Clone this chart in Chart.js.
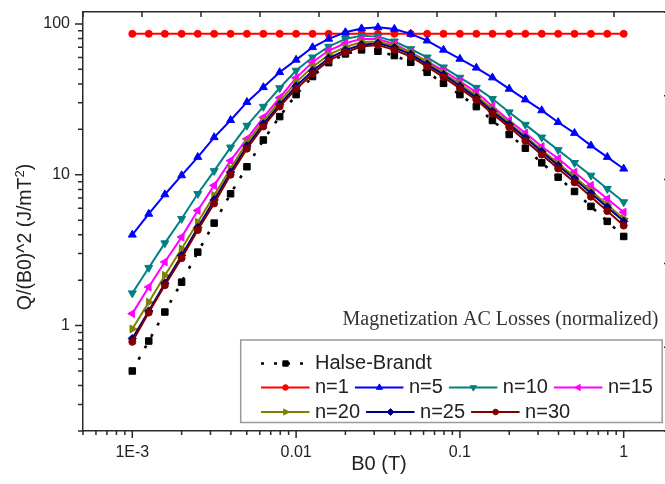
<!DOCTYPE html>
<html>
<head>
<meta charset="utf-8">
<title>Magnetization AC Losses</title>
<script src="https://cdn.jsdelivr.net/npm/chart.js@4.4.1/dist/chart.umd.min.js"></script>
<style>
    html, body { margin: 0; padding: 0; background: #fff; overflow: hidden; }
    #wrap { position: relative; width: 690px; height: 484px; }
</style>
</head>
<body>
<div id="wrap"><canvas id="lossChart"></canvas></div>
<script>
// Applied field amplitude B0 (T), 10 points per decade
const fieldB = [0.001, 0.00126, 0.00158, 0.002, 0.00251, 0.00316, 0.00398, 0.00501, 0.00631, 0.00794,
    0.01, 0.0126, 0.0158, 0.02, 0.0251, 0.0316, 0.0398, 0.0501, 0.0631, 0.0794,
    0.1, 0.126, 0.158, 0.2, 0.251, 0.316, 0.398, 0.501, 0.631, 0.794, 1];

// Normalized loss Q/B0^2 (J/mT^2)
const halseBrandt = [0.50, 0.79, 1.23, 1.94, 3.07, 4.78, 7.48, 11.3, 17.0, 24.3, 34.0, 44.8, 55.4, 63.3, 67.3,
    65.9, 61.7, 55.7, 47.8, 40.4, 34.0, 28.3, 22.9, 18.5, 15.0, 12.0, 9.64, 7.75, 6.17, 4.91, 3.90];
const lossN1 = [86, 86, 86, 86, 86, 86, 86, 86, 86, 86, 86, 86, 86, 86, 86, 86,
    86, 86, 86, 86, 86, 86, 86, 86, 86, 86, 86, 86, 86, 86, 86];
const lossN5 = [4.0, 5.5, 7.4, 9.9, 13.1, 17.7, 23.0, 30.3, 38.0, 47.8, 57.8, 70.0, 79.6, 88.0, 93.3,
    94.9, 92.6, 85.9, 77.5, 67.3, 58.6, 51.2, 44.1, 37.1, 31.5, 26.7, 22.3, 18.9, 15.6, 13.1, 10.96];
const lossN10 = [1.64, 2.42, 3.52, 5.11, 7.48, 10.6, 15.2, 21.2, 28.3, 37.6, 49.1, 60.1, 70.8, 79.6, 83.5,
    82.4, 76.7, 68.2, 60.1, 51.6, 44.1, 37.8, 31.9, 26.0, 21.5, 17.7, 14.6, 12.0, 9.89, 8.07, 6.59];
const lossN15 = [1.20, 1.80, 2.64, 3.86, 5.80, 8.50, 12.4, 17.3, 24.0, 32.4, 43.9, 55.7, 66.6, 74.4, 79.6,
    79.6, 73.7, 64.8, 56.5, 49.1, 41.7, 35.2, 28.5, 22.9, 18.9, 15.4, 12.8, 10.4, 8.50, 6.93, 5.65];
const lossN20 = [0.95, 1.43, 2.15, 3.23, 4.85, 7.30, 11.0, 16.4, 22.8, 30.8, 41.0, 51.8, 62.3, 70.3, 75.8,
    76.4, 71.6, 64.6, 55.9, 47.3, 40.1, 33.4, 27.3, 22.0, 18.0, 14.6, 11.9, 9.69, 7.84, 6.33, 5.11];
const lossN25 = [0.82, 1.25, 1.91, 2.92, 4.46, 6.81, 10.4, 15.5, 21.7, 29.3, 38.7, 48.8, 59.2, 67.0, 72.8,
    74.5, 69.7, 62.9, 54.0, 46.1, 38.8, 32.5, 26.3, 21.5, 17.6, 14.2, 11.5, 9.38, 7.53, 6.09, 4.91];
const lossN30 = [0.78, 1.22, 1.85, 2.80, 4.30, 6.45, 10.0, 14.9, 20.9, 28.3, 37.1, 46.7, 57.1, 64.8, 70.8,
    72.5, 67.3, 60.7, 52.1, 44.4, 37.4, 31.4, 25.4, 20.7, 16.8, 13.6, 11.0, 8.91, 7.16, 5.74, 4.60];

const seriesNames = ['Halse-Brandt', 'n=1', 'n=5', 'n=10', 'n=15', 'n=20', 'n=25', 'n=30'];
const seriesValues = [halseBrandt, lossN1, lossN5, lossN10, lossN15, lossN20, lossN25, lossN30];

// Axis ticks
const xTickValues = [0.001, 0.01, 0.1, 1];
const xTickLabels = ['1E-3', '0.01', '0.1', '1'];
const yTickValues = [1, 10, 100];
const yTickLabels = ['1', '10', '100'];

// Styles
const seriesColors = ['#000000', '#ff0000', '#0000ff', '#008080', '#ff00ff', '#808000', '#000080', '#800000'];
const seriesMarkers = ['rect', 'circle', 'triangle', 'triangle', 'triangle', 'triangle', 'rectRot', 'circle'];
const markerRotation = [0, 0, 0, 180, 270, 90, 0, 0];
const markerRadius = { rect: 4.6, circle: 3.5, triangle: 4.6, rectRot: 4.2 };
const legendRadius = { rect: 3.8, circle: 2.8, triangle: 3.6, rectRot: 3.4 };

const axisColor = '#2a2a2a';
const textColor = '#222';
const sansFont = "'Liberation Sans', Arial, sans-serif";
const serifFont = "'Liberation Serif', 'Times New Roman', serif";

Chart.defaults.font.family = sansFont;
Chart.defaults.color = textColor;

// log ticks at 1..9 x 10^n inside [min, max]
function logTicks(scale) {
    const ticks = [];
    const lo = Math.floor(Math.log10(scale.min));
    const hi = Math.ceil(Math.log10(scale.max));
    for (let e = lo; e <= hi; e++) {
        const decade = Number('1e' + e);
        for (let m = 1; m <= 9; m++) {
            const v = m === 1 ? decade : Number((m * decade).toPrecision(6));
            if (v >= scale.min && v <= scale.max) {
                ticks.push({ value: v, major: m === 1 });
            }
        }
    }
    scale.ticks = ticks;
}

// fixed axis box size, no extra room for overhanging labels
function fixBox(size) {
    return function(scale) {
        if (scale.isHorizontal()) {
            scale.height = size;
        } else {
            scale.width = size;
        }
        scale.paddingTop = 0;
        scale.paddingBottom = 0;
        scale.paddingLeft = 0;
        scale.paddingRight = 0;
    };
}

const datasets = seriesNames.map(function(name, i) {
    return {
        label: name,
        data: fieldB.map(function(b, k) { return { x: b, y: seriesValues[i][k] }; }),
        borderColor: seriesColors[i],
        backgroundColor: seriesColors[i],
        borderWidth: i === 0 ? 2.6 : 2,
        borderDash: i === 0 ? [3, 10] : [],
        pointStyle: seriesMarkers[i],
        rotation: markerRotation[i],
        pointRadius: markerRadius[seriesMarkers[i]],
        pointBorderWidth: 1,
        pointBackgroundColor: seriesColors[i],
        pointBorderColor: seriesColors[i],
        tension: 0,
        order: seriesNames.length - i
    };
});

// Tick marks, axis titles, legend and caption
const decorPlugin = {
    id: 'decor',
    afterDraw(chart) {
        const ctx = chart.ctx;
        const area = chart.chartArea;
        const s = chart.scales;
        ctx.save();
        ctx.strokeStyle = axisColor;
        ctx.lineWidth = 1.5;
        ctx.beginPath();
        s.x.ticks.forEach(function(t) {
            const px = s.x.getPixelForValue(t.value);
            ctx.moveTo(px, area.bottom);
            ctx.lineTo(px, area.bottom + (t.major ? 7 : 4));
        });
        s.y.ticks.forEach(function(t) {
            const py = s.y.getPixelForValue(t.value);
            ctx.moveTo(area.left, py);
            ctx.lineTo(area.left - (t.major ? 8 : 5), py);
        });
        s.x2.ticks.forEach(function(t) {
            const px = s.x2.getPixelForValue(t.value);
            ctx.moveTo(px, area.top);
            ctx.lineTo(px, area.top + 5);
        });
        s.y2.ticks.forEach(function(t) {
            const py = s.y2.getPixelForValue(t.value);
            ctx.moveTo(area.right, py);
            ctx.lineTo(area.right - 9, py);
        });
        ctx.stroke();

        // axis titles
        ctx.fillStyle = textColor;
        ctx.textBaseline = 'middle';
        ctx.textAlign = 'center';
        ctx.font = '20px ' + sansFont;
        ctx.fillText('B0 (T)', 379, 464);

        ctx.save();
        ctx.translate(26, 237);
        ctx.rotate(-Math.PI / 2);
        ctx.textAlign = 'left';
        const mainFont = '19.5px ' + sansFont;
        const supFont = '13px ' + sansFont;
        ctx.font = mainFont;
        const w1 = ctx.measureText('Q/(B0)^2 (J/mT').width;
        const w3 = ctx.measureText(')').width;
        ctx.font = supFont;
        const w2 = ctx.measureText('2').width;
        let tx = -(w1 + w2 + w3) / 2;
        ctx.font = mainFont;
        ctx.fillText('Q/(B0)^2 (J/mT', tx, 0);
        tx += w1;
        ctx.font = supFont;
        ctx.fillText('2', tx, -6);
        tx += w2;
        ctx.font = mainFont;
        ctx.fillText(')', tx, 0);
        ctx.restore();

        // caption above the legend
        ctx.textAlign = 'right';
        ctx.fillStyle = '#333';
        ctx.font = '20px ' + serifFont;
        ctx.fillText('Magnetization AC Losses (normalized)', 658.5, 320);

        // legend box
        ctx.strokeStyle = '#9a9a9a';
        ctx.lineWidth = 1.5;
        ctx.fillStyle = '#fff';
        ctx.fillRect(240.7, 340, 421.5, 82.5);
        ctx.strokeRect(240.7, 340, 421.5, 82.5);

        const rows = [[0], [1, 2, 3, 4], [5, 6, 7]];
        const rowY = [363.5, 387.5, 412];
        ctx.font = '20px ' + sansFont;
        ctx.textAlign = 'left';
        rows.forEach(function(row, r) {
            let x = 261;
            const y = rowY[r];
            row.forEach(function(i) {
                const ds = chart.data.datasets[i];
                ctx.strokeStyle = ds.borderColor;
                ctx.lineWidth = ds.borderWidth;
                ctx.setLineDash(ds.borderDash);
                ctx.beginPath();
                ctx.moveTo(x, y);
                ctx.lineTo(x + 48.5, y);
                ctx.stroke();
                ctx.setLineDash([]);
                ctx.fillStyle = ds.borderColor;
                ctx.lineWidth = 1;
                Chart.helpers.drawPoint(ctx, {
                    pointStyle: ds.pointStyle,
                    rotation: ds.rotation,
                    radius: legendRadius[ds.pointStyle],
                    borderWidth: 1
                }, x + 24.5, y);
                ctx.fillStyle = textColor;
                const tx0 = x + 54;
                ctx.fillText(ds.label, tx0, y);
                x = tx0 + ctx.measureText(ds.label).width + 6;
            });
        });
        ctx.restore();
    }
};

const ctx = document.getElementById('lossChart').getContext('2d');
const lossChart = new Chart(ctx, {
    type: 'line',
    data: { datasets: datasets },
    options: {
        responsive: true,
        maintainAspectRatio: false,
        animation: false,
        layout: { padding: 0 },
        plugins: {
            legend: { display: false },
            tooltip: { enabled: false }
        },
        scales: {
            x: {
                type: 'logarithmic',
                position: 'bottom',
                min: 0.0005,
                max: 2,
                afterBuildTicks: logTicks,
                afterFit: fixBox(53),
                grid: { drawOnChartArea: false, drawTicks: false },
                border: { color: axisColor, width: 1.5 },
                ticks: {
                    autoSkip: false,
                    maxRotation: 0,
                    padding: 11.5,
                    font: { size: 16 },
                    color: textColor,
                    callback: function(value) {
                        const k = xTickValues.indexOf(value);
                        return k >= 0 ? xTickLabels[k] : '';
                    }
                }
            },
            x2: {
                type: 'linear',
                position: 'top',
                min: 0,
                max: 10,
                afterFit: fixBox(12),
                grid: { drawOnChartArea: false, drawTicks: false },
                border: { color: axisColor, width: 1.5 },
                ticks: { display: false, stepSize: 1 }
            },
            y: {
                type: 'logarithmic',
                position: 'left',
                min: 0.2,
                max: 120,
                afterBuildTicks: logTicks,
                afterFit: fixBox(83),
                grid: { drawOnChartArea: false, drawTicks: false },
                border: { color: axisColor, width: 1.5 },
                ticks: {
                    autoSkip: false,
                    padding: 13,
                    font: { size: 16 },
                    color: textColor,
                    callback: function(value) {
                        const k = yTickValues.indexOf(value);
                        return k >= 0 ? yTickLabels[k] : '';
                    }
                }
            },
            y2: {
                type: 'linear',
                position: 'right',
                min: 0,
                max: 5,
                afterFit: fixBox(17),
                grid: { drawOnChartArea: false, drawTicks: false },
                border: { color: axisColor, width: 1.5 },
                ticks: { display: false, stepSize: 1 }
            }
        }
    },
    plugins: [decorPlugin]
});
</script>
</body>
</html>
